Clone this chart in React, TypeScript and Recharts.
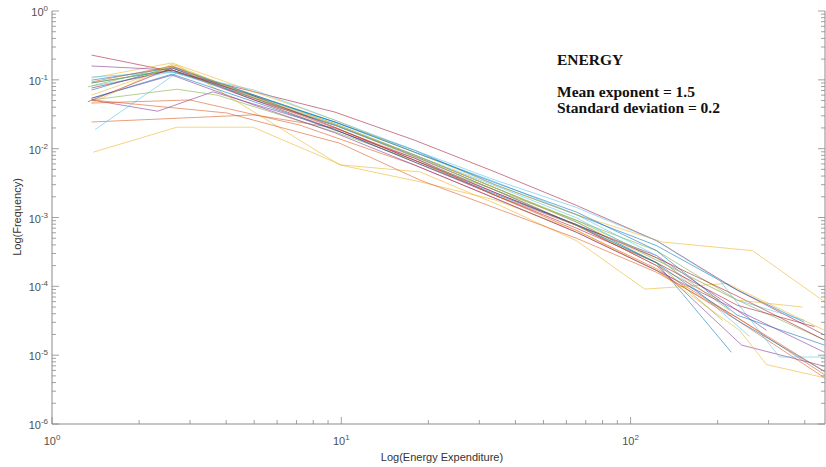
import { LineChart, Line, XAxis, YAxis } from "recharts";

// MATLAB default line colour order
const COLORS = ["#0072BD", "#D95319", "#EDB120", "#7E2F8E", "#77AC30", "#4DBEEE", "#A2142F"];

const X_TICKS = [1, 2, 3, 4, 5, 6, 7, 8, 9, 10, 20, 30, 40, 50, 60, 70, 80, 90, 100, 200, 300, 400];
const Y_DECADES = [1e-6, 1e-5, 1e-4, 1e-3, 1e-2, 1e-1, 1];
const Y_TICKS = Y_DECADES.flatMap((d) => (d === 1 ? [1] : [1, 2, 3, 4, 5, 6, 7, 8, 9].map((m) => m * d)));

const X_TITLE = "Log(Energy Expenditure)";
const Y_TITLE = "Log(Frequency)";
const NOTE_TITLE = "ENERGY";
const NOTE_LINES = ["Mean exponent = 1.5", "Standard deviation = 0.2"];

// [energy, frequency] per curve
const S0: [number, number][] = [[1.37, 0.09], [2.6, 0.139], [5, 0.054], [9.5, 0.022], [17.9, 0.0081], [34, 0.0027], [65, 8.6e-4], [123, 2.2e-4], [223, 1.1e-5]];
const S1: [number, number][] = [[1.37, 0.0244], [5, 0.031], [9.5, 0.02], [17.9, 0.0073], [34, 0.0021], [65, 6.5e-4], [123, 1.8e-4], [234, 3.5e-5], [468, 5.2e-6]];
const S2: [number, number][] = [[1.39, 0.0089], [2.7, 0.0205], [4.95, 0.0205], [10, 0.0058], [18.7, 0.0046], [35.3, 0.0015], [65, 4.6e-4], [112, 9.1e-5], [215, 1.1e-4], [468, 2.3e-5]];
const S3: [number, number][] = [[1.37, 0.051], [2.32, 0.035], [3.6, 0.067], [7.19, 0.028], [17.9, 0.0073], [34, 0.0023], [65, 7.7e-4], [123, 2.8e-4], [295, 2.3e-5]];
const S4: [number, number][] = [[1.37, 0.051], [2.7, 0.073], [3.72, 0.06], [9.5, 0.0175], [17.9, 0.0068], [34, 0.0025], [65, 9.1e-4], [123, 3.3e-4], [234, 6.3e-5], [468, 1.66e-5]];
const S5: [number, number][] = [[1.41, 0.019], [2.7, 0.126], [5, 0.06], [9.5, 0.0244], [17.9, 0.0089], [34, 0.0033], [65, 0.0011], [123, 2.8e-4], [258, 1.87e-5]];
const S6: [number, number][] = [[1.37, 0.229], [2.46, 0.139], [5, 0.067], [9.5, 0.034], [17.9, 0.0133], [34, 0.0046], [65, 0.0015], [123, 4.6e-4], [234, 8.8e-5], [468, 1.96e-5]];
const S7: [number, number][] = [[1.37, 0.099], [2.6, 0.149], [5, 0.058], [9.5, 0.0244], [17.9, 0.0095], [34, 0.003], [65, 0.0011], [123, 3.9e-4], [234, 8.8e-5], [399, 3.0e-5]];
const S8: [number, number][] = [[1.37, 0.046], [3, 0.051], [7.19, 0.022], [17.9, 0.0058], [34, 0.0019], [65, 6.1e-4], [123, 1.7e-4], [234, 3.2e-5], [468, 4.7e-6]];
const S9: [number, number][] = [[1.37, 0.106], [2.6, 0.176], [5, 0.067], [9.5, 0.026], [17.9, 0.0089], [34, 0.003], [65, 0.0011], [129, 4.4e-4], [264, 3.3e-4], [468, 6.0e-5]];
const S10: [number, number][] = [[1.37, 0.159], [2.6, 0.139], [5, 0.051], [9.5, 0.022], [17.9, 0.0078], [34, 0.0025], [65, 7.7e-4], [123, 2.0e-4], [242, 1.4e-5], [468, 6.9e-6]];
const S11: [number, number][] = [[1.33, 0.079], [2.6, 0.159], [5, 0.06], [9.5, 0.023], [17.9, 0.0081], [34, 0.0027], [65, 9.1e-4], [123, 2.6e-4], [220, 4.5e-5]];
const S12: [number, number][] = [[1.37, 0.11], [2.6, 0.13], [5, 0.071], [9.5, 0.026], [17.9, 0.0095], [34, 0.0035], [65, 0.0014], [123, 4.6e-4], [203, 1.23e-4], [327, 9.4e-6], [468, 9.4e-6]];
const S13: [number, number][] = [[1.33, 0.048], [2.6, 0.149], [5, 0.051], [9.5, 0.019], [17.9, 0.0064], [34, 0.0021], [65, 7.0e-4], [123, 2.2e-4], [234, 5.3e-5], [432, 2.6e-5]];
const S14: [number, number][] = [[1.37, 0.071], [2.6, 0.154], [5, 0.06], [9.5, 0.0244], [17.9, 0.0089], [34, 0.0032], [65, 0.0012], [123, 3.3e-4], [234, 3.8e-5], [468, 1.4e-5]];
const S15: [number, number][] = [[1.37, 0.093], [2.6, 0.159], [5, 0.054], [9.5, 0.02], [17.9, 0.0068], [34, 0.0021], [65, 7.7e-4], [123, 2.0e-4], [203, 6.3e-5]];
const S16: [number, number][] = [[1.37, 0.06], [2.7, 0.164], [5, 0.034], [9.88, 0.0058], [18.7, 0.0033], [34, 0.0018], [65, 6.5e-4], [123, 1.7e-4], [238, 2.3e-5], [295, 7.3e-6], [468, 4.7e-6]];
const S17: [number, number][] = [[1.37, 0.054], [2.6, 0.117], [5, 0.043], [9.5, 0.017], [17.9, 0.0058], [34, 0.0019], [65, 6.1e-4], [123, 1.7e-4], [234, 4.5e-5], [468, 1.1e-5]];
const S18: [number, number][] = [[1.37, 0.09], [2.6, 0.139], [5, 0.054], [9.5, 0.022], [17.9, 0.0076], [34, 0.0025], [65, 7.7e-4], [123, 2.2e-4], [208, 3.2e-5]];
const S19: [number, number][] = [[1.37, 0.081], [2.6, 0.13], [5, 0.056], [9.5, 0.022], [17.9, 0.0081], [34, 0.0029], [65, 9.9e-4], [123, 2.4e-4], [234, 6.3e-5], [399, 3.2e-5]];
const S20: [number, number][] = [[1.37, 0.076], [2.6, 0.139], [5, 0.058], [9.5, 0.0205], [17.9, 0.0068], [34, 0.0023], [65, 7.9e-4], [123, 2.6e-4], [234, 7.2e-5], [468, 1.66e-5]];
const S21: [number, number][] = [[1.37, 0.054], [2.6, 0.121], [5, 0.048], [9.5, 0.019], [17.9, 0.0064], [34, 0.0022], [65, 7.9e-4], [123, 2.2e-4], [234, 3.2e-5], [468, 5.8e-6]];
const S22: [number, number][] = [[1.37, 0.051], [4.02, 0.033], [9.88, 0.012], [18.7, 0.0035], [35.3, 0.0013], [65, 5.0e-4], [123, 1.6e-4], [234, 3.5e-5], [468, 5.8e-6]];
const S23: [number, number][] = [[1.37, 0.046], [2.6, 0.17], [5, 0.056], [9.5, 0.023], [17.9, 0.0081], [34, 0.0027], [65, 8.6e-4], [123, 2.4e-4], [234, 6.3e-5], [393, 5.0e-5]];

const SERIES = [S0, S1, S2, S3, S4, S5, S6, S7, S8, S9, S10, S11, S12, S13, S14, S15, S16, S17, S18, S19, S20, S21, S22, S23];

const W = 826;
const H = 467;
const AXIS = "#8a8a8a";
const LABEL = "#505050";
const SANS = "'Liberation Sans', Arial, sans-serif";

const isMajor = (v: number) => Math.abs(Math.log10(v) - Math.round(Math.log10(v))) < 1e-6;

function BottomTick(props: any) {
  const { x, y, payload } = props;
  const major = isMajor(payload.value);
  return (
    <g>
      <line x1={x} x2={x} y1={y} y2={y - (major ? 7 : 4)} stroke={AXIS} strokeWidth={0.8} />
      {major && (
        <text x={x} y={y + 21} textAnchor="middle" fontSize={11} fill={LABEL} fontFamily={SANS}>
          10<tspan fontSize={8} dy={-5}>{Math.round(Math.log10(payload.value))}</tspan>
        </text>
      )}
    </g>
  );
}

function TopTick(props: any) {
  const { x, y, payload } = props;
  const major = isMajor(payload.value);
  return <line x1={x} x2={x} y1={y} y2={y + (major ? 7 : 4)} stroke={AXIS} strokeWidth={0.8} />;
}

function LeftTick(props: any) {
  const { x, y, payload } = props;
  const major = isMajor(payload.value);
  return (
    <g>
      <line x1={x} x2={x + (major ? 7 : 4)} y1={y} y2={y} stroke={AXIS} strokeWidth={0.8} />
      {major && (
        <text x={x - 4} y={y + 5} textAnchor="end" fontSize={11} fill={LABEL} fontFamily={SANS}>
          10<tspan fontSize={8} dy={-5}>{Math.round(Math.log10(payload.value))}</tspan>
        </text>
      )}
    </g>
  );
}

function RightTick(props: any) {
  const { x, y, payload } = props;
  const major = isMajor(payload.value);
  return <line x1={x} x2={x - (major ? 7 : 4)} y1={y} y2={y} stroke={AXIS} strokeWidth={0.8} />;
}

export default function App() {
  return (
    <div style={{ position: "fixed", left: 0, top: 0, width: W, height: H, overflow: "hidden", background: "#fff" }}>
      <LineChart width={W} height={H} margin={{ top: 11, right: 0, bottom: 0, left: 0 }}>
        <XAxis
          dataKey="x"
          type="number"
          scale="log"
          domain={[1, 470]}
          allowDataOverflow
          ticks={X_TICKS}
          interval={0}
          height={43}
          tickSize={0}
          tickMargin={0}
          tickLine={false}
          axisLine={{ stroke: AXIS }}
          tick={<BottomTick />}
        />
        <XAxis
          xAxisId="top"
          orientation="top"
          type="number"
          scale="log"
          domain={[1, 470]}
          allowDataOverflow
          ticks={X_TICKS}
          interval={0}
          height={0}
          tickSize={0}
          tickMargin={0}
          tickLine={false}
          axisLine={{ stroke: AXIS }}
          tick={<TopTick />}
        />
        <YAxis
          type="number"
          scale="log"
          domain={[1e-6, 1]}
          allowDataOverflow
          ticks={Y_TICKS}
          interval={0}
          width={52}
          tickSize={0}
          tickMargin={0}
          tickLine={false}
          axisLine={{ stroke: AXIS }}
          tick={<LeftTick />}
        />
        <YAxis
          yAxisId="right"
          orientation="right"
          type="number"
          scale="log"
          domain={[1e-6, 1]}
          allowDataOverflow
          ticks={Y_TICKS}
          interval={0}
          width={1}
          tickSize={0}
          tickMargin={0}
          tickLine={false}
          axisLine={{ stroke: AXIS }}
          tick={<RightTick />}
        />
        {SERIES.map((s, i) => (
          <Line
            key={i}
            data={s.map(([x, y]) => ({ x, y }))}
            dataKey="y"
            type="linear"
            stroke={COLORS[i % COLORS.length]}
            strokeWidth={0.8}
            strokeOpacity={0.7}
            dot={false}
            activeDot={false}
            isAnimationActive={false}
          />
        ))}
      </LineChart>
      <svg width={W} height={H} style={{ position: "absolute", left: 0, top: 0, pointerEvents: "none" }}>
        <text x={442} y={461} textAnchor="middle" fontSize={11} fill="#333" fontFamily={SANS}>
          {X_TITLE}
        </text>
        <text
          x={0}
          y={0}
          transform="translate(21 217) rotate(-90)"
          textAnchor="middle"
          fontSize={11}
          fill="#333"
          fontFamily={SANS}
        >
          {Y_TITLE}
        </text>
        <g fontFamily="'Liberation Serif', 'Times New Roman', serif" fontWeight="bold" fontSize={15.5} fill="#111">
          <text x={557} y={65}>{NOTE_TITLE}</text>
          {NOTE_LINES.map((t, i) => (
            <text key={t} x={557} y={97 + i * 16}>
              {t}
            </text>
          ))}
        </g>
      </svg>
    </div>
  );
}
